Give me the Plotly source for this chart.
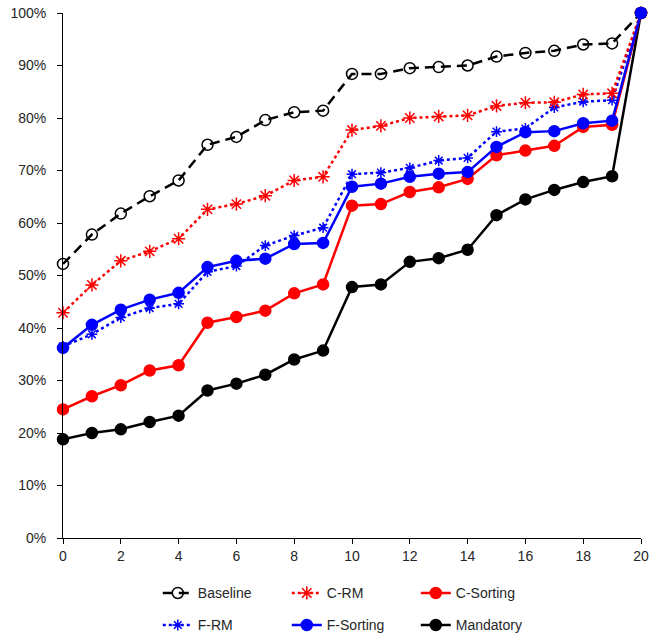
import plotly.graph_objects as go

x_vals = list(range(21))

baseline = [52.2, 57.8, 61.8, 65.1, 68.1, 74.9, 76.4, 79.6, 81.1, 81.4, 88.4, 88.4, 89.5, 89.7, 90.0, 91.7, 92.4, 92.8, 94.0, 94.2, 100]
c_rm = [42.9, 48.2, 52.8, 54.6, 57.0, 62.6, 63.6, 65.2, 68.1, 68.8, 77.7, 78.5, 80.0, 80.3, 80.5, 82.3, 82.9, 83.0, 84.5, 84.7, 100]
c_sorting = [24.5, 27.0, 29.1, 31.9, 32.9, 41.0, 42.1, 43.3, 46.6, 48.3, 63.3, 63.6, 65.9, 66.8, 68.4, 72.9, 73.8, 74.7, 78.3, 78.7, 100]
f_rm = [36.5, 38.8, 42.0, 43.8, 44.6, 50.7, 51.8, 55.7, 57.6, 59.1, 69.3, 69.6, 70.5, 71.9, 72.4, 77.4, 78.0, 82.0, 83.1, 83.4, 100]
f_sorting = [36.2, 40.6, 43.5, 45.4, 46.7, 51.6, 52.8, 53.2, 56.0, 56.2, 66.9, 67.5, 68.8, 69.4, 69.7, 74.5, 77.3, 77.5, 79.0, 79.5, 100]
mandatory = [18.8, 20.0, 20.7, 22.1, 23.3, 28.1, 29.4, 31.1, 34.0, 35.7, 47.8, 48.3, 52.6, 53.3, 54.9, 61.5, 64.5, 66.3, 67.8, 68.9, 100]

fig = go.Figure()

def add(name, y, color, dash, symbol, size, legend, rank, lw=2.5, mfill=None):
    fig.add_trace(go.Scatter(
        x=x_vals, y=y, name=name, mode="lines+markers",
        line=dict(color=color, width=lw, dash=dash),
        marker=dict(symbol=symbol, size=size, color=mfill if mfill else color,
                    line=dict(color=color, width=1.5)),
        cliponaxis=False, legend=legend, legendrank=rank,
    ))

add("Mandatory", mandatory, "black", "solid", "circle", 11, "legend2", 6)
add("C-Sorting", c_sorting, "red", "solid", "circle", 11, "legend", 3)
add("F-RM", f_rm, "blue", "dot", "asterisk-open", 9, "legend2", 4)
add("C-RM", c_rm, "red", "dot", "asterisk-open", 11, "legend", 2)
add("Baseline", baseline, "black", "10px,6px", "circle-open", 11, "legend", 1)
add("F-Sorting", f_sorting, "blue", "solid", "circle", 11, "legend2", 5)

font = dict(family="Liberation Sans", size=14, color="#262626")

leg_common = dict(orientation="h", xanchor="left", yanchor="top",
                  entrywidth=84, entrywidthmode="pixels", traceorder="normal",
                  font=font, bgcolor="rgba(0,0,0,0)", borderwidth=0)

fig.update_layout(
    width=650, height=637,
    margin=dict(l=63, r=9, t=13, b=99, autoexpand=False),
    paper_bgcolor="white", plot_bgcolor="white",
    font=font,
    xaxis=dict(range=[0, 20], dtick=2, tick0=0, showgrid=False, zeroline=False,
               showline=True, linecolor="black", linewidth=1,
               ticks="outside", ticklen=5, tickcolor="black", tickwidth=1,
               ticklabeloverflow="allow"),
    yaxis=dict(range=[0, 100], dtick=10, showgrid=False, zeroline=False,
               showline=True, linecolor="black", linewidth=1,
               ticks="outside", ticklen=5, tickcolor="black", tickwidth=1,
               ticksuffix="%", ticklabelstandoff=8, ticklabeloverflow="allow"),
    legend=dict(x=0.164, y=-0.075, **leg_common),
    legend2=dict(x=0.164, y=-0.136, **leg_common),
)

fig.write_html("out.html",
               config={"displayModeBar": False},
               post_script="document.body.style.margin='0';document.body.style.padding='0';")
